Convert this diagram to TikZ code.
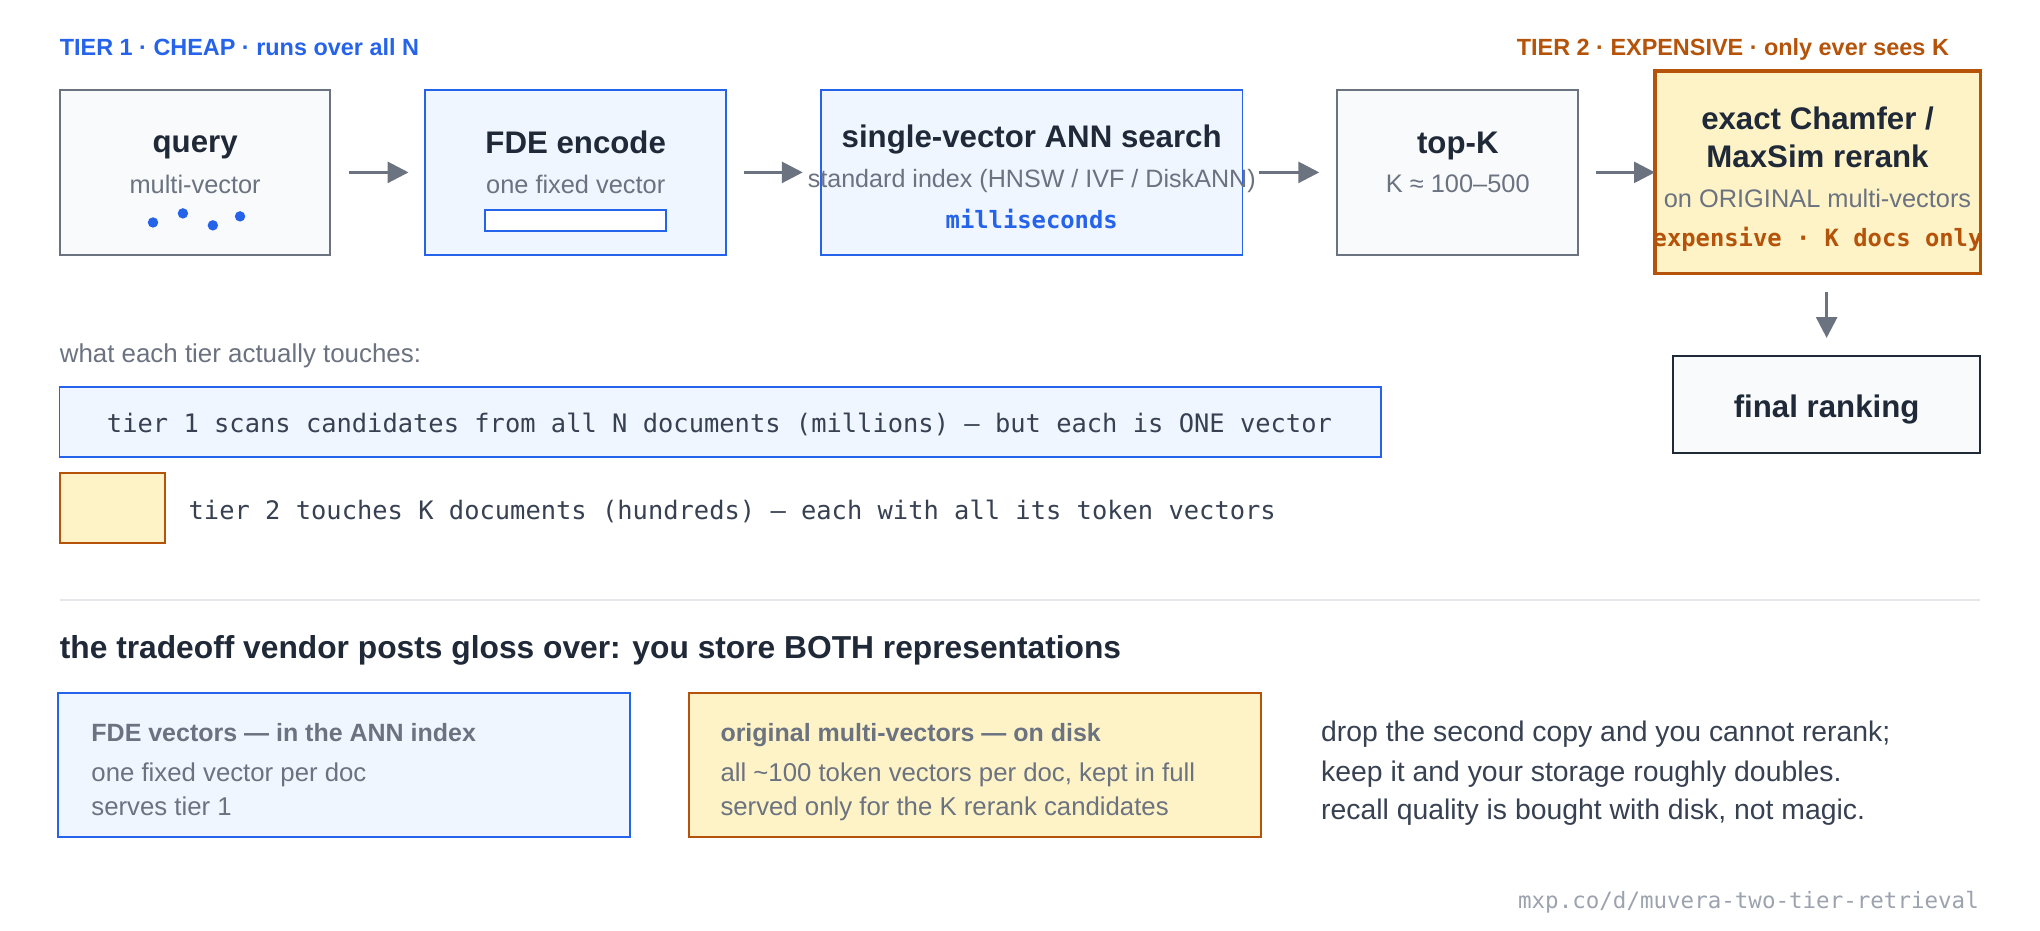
\documentclass[tikz,border=0pt]{standalone}
\usepackage{fontspec}
\setmainfont{Liberation Sans}
\setmonofont{DejaVu Sans Mono}
\usetikzlibrary{arrows.meta,calc}
\definecolor{cblue}{HTML}{2563EB}
\definecolor{cbluefill}{HTML}{EFF6FF}
\definecolor{corange}{HTML}{B45309}
\definecolor{cyellow}{HTML}{FEF3C7}
\definecolor{cgray}{HTML}{6B7280}
\definecolor{cgrayfill}{HTML}{F8FAFC}
\definecolor{cdark}{HTML}{1F2937}
\definecolor{ctext}{HTML}{374151}
\definecolor{cline}{HTML}{E5E7EB}
\definecolor{cfoot}{HTML}{9CA3AF}
\newcommand{\myfs}[1]{\fontsize{#1}{#1}\selectfont}
\begin{document}
\begin{tikzpicture}[x=1pt,y=-1pt,
  box/.style={draw, line width=1.5pt, inner sep=0pt, outer sep=0pt},
  graybox/.style={box, draw=cgray, fill=cgrayfill},
  bluebox/.style={box, draw=cblue, fill=cbluefill},
  orangebox/.style={box, draw=corange, fill=cyellow},
  txt/.style={inner sep=0pt, outer sep=0pt, anchor=base},
  ttl/.style={txt, font=\myfs{24}\bfseries, text=cdark},
  sub/.style={txt, font=\myfs{19.5}, text=cgray},
  bsub/.style={txt, anchor=base west, font=\myfs{19.8}, text=cgray},
  bbold/.style={txt, anchor=base west, font=\myfs{19.2}\bfseries, text=cgray},
  rtxt/.style={txt, anchor=base west, font=\myfs{21.8}, text=ctext},
  lbl/.style={txt, font=\myfs{18}\bfseries},
  monob/.style={txt, font=\myfs{18.3}\ttfamily\bfseries},
  monot/.style={txt, anchor=base west, font=\myfs{19.55}\ttfamily, text=ctext},
  arr/.style={-{Triangle[length=16pt,width=16pt]}, line width=2.3pt, draw=cgray}
]
\useasboundingbox[fill=white] (0,0) rectangle (1568,715);

% tier labels
\node[lbl, anchor=base west, text=cblue] (t1) at (46,42.5) {TIER 1 · CHEAP · runs over all N};
\node[lbl, anchor=base east, text=corange] (t2) at (1498,42.5) {TIER 2 · EXPENSIVE · only ever sees K};

% pipeline boxes
\node[graybox, minimum width=208pt, minimum height=127pt] (q) at (150,132.5) {};
\node[bluebox, minimum width=231pt, minimum height=127pt] (fde) at (442.5,132.5) {};
\node[bluebox, minimum width=324pt, minimum height=127pt] (ann) at (793,132.5) {};
\node[graybox, minimum width=185pt, minimum height=127pt] (topk) at (1120.5,132.5) {};
\node[orangebox, line width=2.5pt, minimum width=250pt, minimum height=156pt] (rr) at (1397,132.5) {};
\node[graybox, draw=cdark, line width=2pt, minimum width=236pt, minimum height=74.5pt] (fin) at (1404,311) {};

% query
\node[ttl] (qt) at (150,117.2) {query};
\node[sub] (qs) at (150,148.5) {multi-vector};
\fill[cblue] (117.6,171) circle[radius=4pt];
\fill[cblue] (140.6,164) circle[radius=4pt];
\fill[cblue] (163.6,173.2) circle[radius=4pt];
\fill[cblue] (184.5,166.3) circle[radius=4pt];

% FDE
\node[ttl] (fdet) at (442.5,118.2) {FDE encode};
\node[sub] (fdes) at (442.5,148.5) {one fixed vector};
\node[box, draw=cblue, fill=white, line width=1.5pt, minimum width=139pt, minimum height=16pt] (vec) at (442.5,169.3) {};

% ANN
\node[ttl] (annt) at (793,113.2) {single-vector ANN search};
\node[txt, font=\myfs{19.3}, text=cgray] (anns) at (793,144) {standard index (HNSW / IVF / DiskANN)};
\node[monob, text=cblue] (annm) at (793,175.7) {milliseconds};

% top-K
\node[ttl] (topkt) at (1120.5,117.6) {top-K};
\node[sub] (topks) at (1120.5,148.2) {K ≈ 100–500};

% rerank
\node[ttl] (rrt1) at (1397,99.6) {exact Chamfer /};
\node[ttl] (rrt2) at (1397,129.1) {MaxSim rerank};
\node[sub] (rrs) at (1397,159.8) {on ORIGINAL multi-vectors};
\node[monob, text=corange] (rrm) at (1397,189.5) {expensive · K docs only};

% final
\node[ttl] (fint) at (1404,321) {final ranking};

% arrows
\draw[arr] ($(q.east)+(14,0)$) -- ($(fde.west)-(13,0)$);
\draw[arr] ($(fde.east)+(14,0)$) -- ($(ann.west)-(14,0)$);
\draw[arr] ($(ann.east)+(13,0)$) -- ($(topk.west)-(14,0)$);
\draw[arr] ($(topk.east)+(14,0)$) -- (rr.west);
\draw[arr] ($(rr.south -| fin.north)+(0,14)$) -- ($(fin.north)-(0,14)$);

% what each tier touches
\node[txt, anchor=base west, font=\myfs{19.9}, text=cgray] (wh) at (46,279) {what each tier actually touches:};
\node[bluebox, minimum width=1015.7pt, minimum height=53.8pt] (tb1) at (553.6,324.1) {};
\node[monot] (tb1t) at (82.2,332.3) {tier 1 scans candidates from all N documents (millions) — but each is ONE vector};
\node[orangebox, minimum width=81pt, minimum height=53.8pt] (tb2) at (86.3,390.7) {};
\node[monot] (tb2t) at (145,399.4) {tier 2 touches K documents (hundreds) — each with all its token vectors};

% separator
\draw[cline, line width=1.2pt] (46,461) -- (1522,461);

% tradeoff
\node[txt, anchor=base west, font=\myfs{24.4}\bfseries, text=cdark] (hd) at (46,506) {the tradeoff vendor posts gloss over: you store BOTH representations};
\node[bluebox, minimum width=439.8pt, minimum height=111.2pt] (sb1) at (264.6,588) {};
\node[orangebox, minimum width=439.2pt, minimum height=111.2pt] (sb2) at (749.4,588) {};
\node[bbold] (sb1a) at (70.3,570) {FDE vectors — in the ANN index};
\node[bsub] (sb1b) at (70.3,600.5) {one fixed vector per doc};
\node[bsub] (sb1c) at (70.3,627) {serves tier 1};
\node[bbold] (sb2a) at (553.8,570) {original multi-vectors — on disk};
\node[bsub] (sb2b) at (553.8,600.5) {all \textasciitilde100 token vectors per doc, kept in full};
\node[bsub] (sb2c) at (553.8,627) {served only for the K rerank candidates};

\node[rtxt] (r1) at (1015.5,570.3) {drop the second copy and you cannot rerank;};
\node[rtxt] (r2) at (1015.5,600.5) {keep it and your storage roughly doubles.};
\node[rtxt] (r3) at (1015.5,630) {recall quality is bought with disk, not magic.};

% footer
\node[txt, anchor=base east, font=\myfs{17.3}\ttfamily, text=cfoot] (ft) at (1521,698.5) {mxp.co/d/muvera-two-tier-retrieval};
\end{tikzpicture}
\end{document}
